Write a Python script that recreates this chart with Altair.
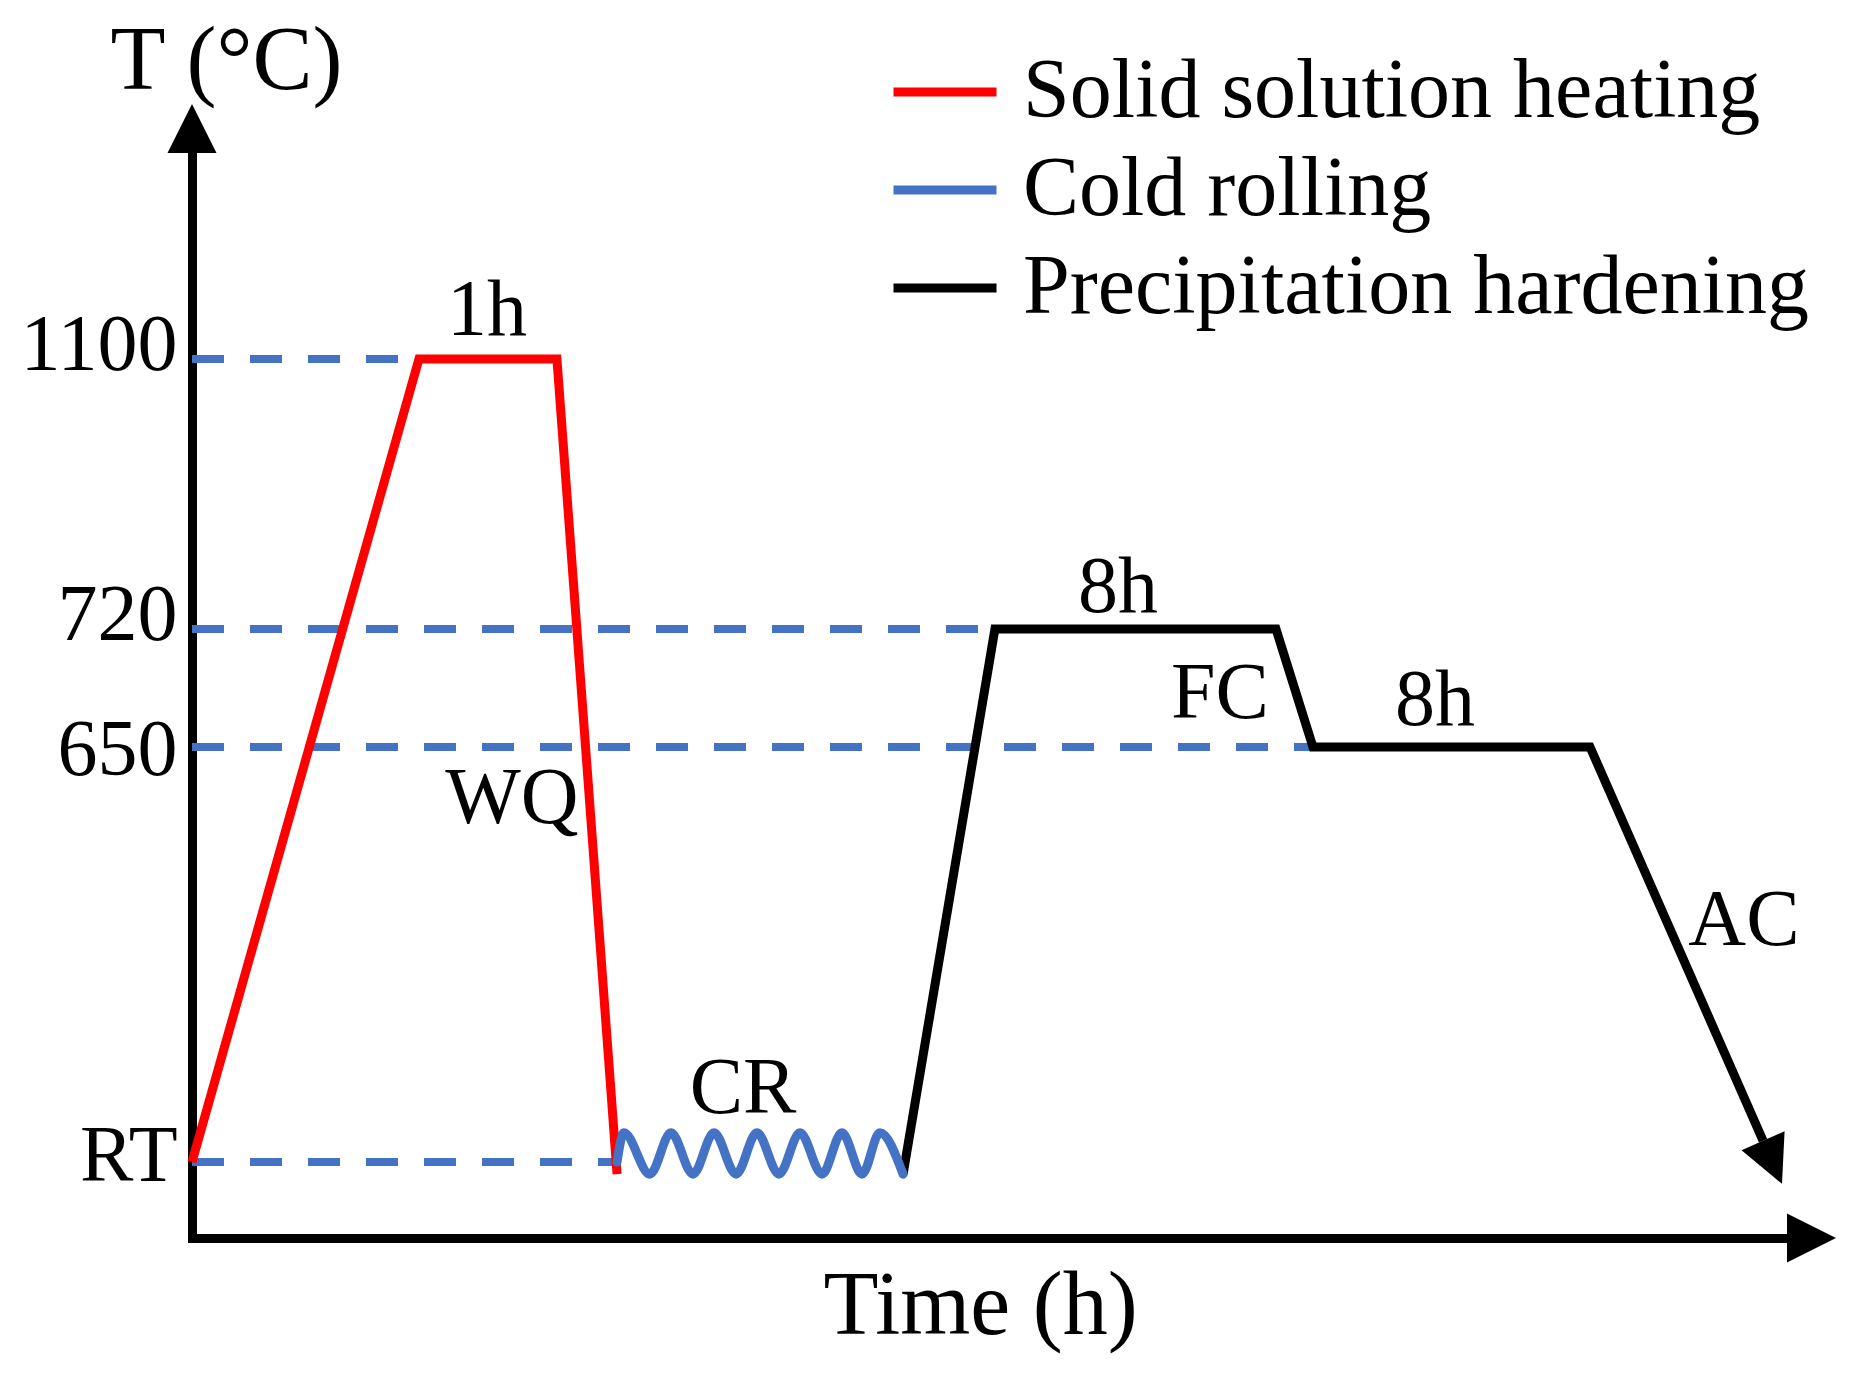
import math
import numpy as np
import pandas as pd
import altair as alt

FONT = "Liberation Serif"

# ---- schematic data (time in arbitrary schematic units, temperature in °C) ----
level_values = [25, 650, 720, 1100]
level_labels = ["RT", "650", "720", "1100"]
level_line_end = [26.65, 70.28, 50.34, 14.23]   # where each dashed guide meets the curve

series_names = ["Solid solution heating", "Cold rolling", "Precipitation hardening"]
series_colors = ["#FF0000", "#4472C4", "#000000"]

heat_t = [0, 14.23, 22.88, 26.65]
heat_T = [25, 1100, 1100, 21]

roll_t = [26.65, 27.08, 28.71, 30.03, 31.41, 32.73, 34.11, 35.42, 36.80,
          38.12, 39.50, 40.75, 42.01, 43.13, 44.58]
roll_T = [25, 69, 21, 69, 21, 69, 21, 69, 21, 69, 21, 69, 21, 69, 21]

age_t = [44.58, 50.34, 67.96, 70.28, 87.65, 98.50]
age_T = [21, 720, 720, 650, 650, 57]

note_text = ["1h", "WQ", "CR", "8h", "FC", "8h", "AC"]
note_t = [18.5, 20.06, 34.55, 58.06, 64.45, 77.93, 97.3]
note_T = [1135, 535, 99, 744, 667, 663, 352]

t_domain = [0, 100]
T_domain = [0, 25, 650, 720, 1100, 1400]

# ---- layout / styling ----
W, H = 1595, 1085
T_range = [1085, 1009, 594, 476, 206, 0]   # schematic (non-linear) temperature axis
LINE_W = 9

def px_t(v):
    return v / t_domain[1] * W

def px_T(v):
    return float(np.interp(v, T_domain, T_range))

dx = px_t(age_t[-1]) - px_t(age_t[-2])
dy = px_T(age_T[-1]) - px_T(age_T[-2])
ac_angle = (360 - math.degrees(math.atan2(dx, dy))) % 360

label_expr = " : ".join(
    [f"datum.value == {v} ? '{l}'" for v, l in zip(level_values, level_labels)] + ["''"]
)

x_axis = alt.Axis(
    title="Time (h)", labels=False, ticks=False, grid=False,
    domainColor="black", domainWidth=9, domainCap="square",
    titleFont=FONT, titleFontSize=90, titleFontWeight="normal", titleColor="black",
    titleX=788, titleY=95, titleAlign="center", titleBaseline="alphabetic",
)
y_axis = alt.Axis(
    title="T (°C)", values=level_values, labelExpr=label_expr,
    ticks=False, grid=False,
    domainColor="black", domainWidth=9, domainCap="square",
    labelFont=FONT, labelFontSize=80, labelColor="black", labelPadding=15,
    labelOffset={"condition": [{"test": "datum.value == 650", "value": 27},
                               {"test": "datum.value == 25", "value": 18}],
                 "value": 10},
    labelBaseline="alphabetic", labelOverlap=False, labelFlush=False,
    titleAngle=0, titleX=34, titleY=-65, titleAlign="center", titleBaseline="alphabetic",
    titleFont=FONT, titleFontSize=90, titleFontWeight="normal", titleColor="black",
)

X = alt.X("t:Q", scale=alt.Scale(domain=t_domain, nice=False, zero=False), axis=x_axis)
Y = alt.Y("T:Q", scale=alt.Scale(domain=T_domain, range=T_range, nice=False, zero=False),
          axis=y_axis)

legend = alt.Legend(
    orient="none", legendX=697, legendY=-117, title=None, direction="vertical",
    symbolType="stroke", symbolSize=10609, symbolStrokeWidth=9,
    labelFont=FONT, labelFontSize=84, labelColor="black", labelLimit=1500,
    labelOffset=22, rowPadding=0, padding=0,
)
C = alt.Color("process:N", scale=alt.Scale(domain=series_names, range=series_colors),
              legend=legend)

# ---- data frames ----
guides = pd.DataFrame({"t": [t_domain[0]] * len(level_values), "t_end": level_line_end,
                       "T": level_values})

lines = pd.concat([
    pd.DataFrame({"t": heat_t, "T": heat_T, "process": series_names[0],
                  "i": range(len(heat_t))}),
    pd.DataFrame({"t": age_t, "T": age_T, "process": series_names[2],
                  "i": range(len(age_t))}),
])
wave = pd.DataFrame({"t": roll_t, "T": roll_T, "process": series_names[1],
                     "i": range(len(roll_t))})

arrows = pd.DataFrame({
    "t": [t_domain[0], t_domain[1], age_t[-1]],
    "T": [T_domain[-1], T_domain[0], age_T[-1]],
    "shape": ["M -1 0 L 0 -2 L 1 0 Z", "M 0 -1 L 2 0 L 0 1 Z", "M -1 0 L 0 2 L 1 0 Z"],
    "size": [2401, 2401, 2209],
    "angle": [0, 0, ac_angle],
})

notes = pd.DataFrame({"t": note_t, "T": note_T, "label": note_text})

# ---- layers ----
guide_layer = alt.Chart(guides).mark_rule(
    color=series_colors[1], strokeWidth=8, strokeDash=[32, 26], strokeCap="butt"
).encode(x=X, x2=alt.X2("t_end"), y=Y)

line_layer = alt.Chart(lines).mark_line(
    strokeWidth=LINE_W, strokeJoin="miter", strokeCap="butt"
).encode(x=X, y=Y, color=C, order="i:Q")

wave_layer = alt.Chart(wave).mark_line(
    strokeWidth=LINE_W, interpolate="monotone", strokeJoin="round", strokeCap="round"
).encode(x=X, y=Y, color=C, order="i:Q")

arrow_layer = alt.Chart(arrows).mark_point(
    filled=True, opacity=1, color="black", strokeWidth=0
).encode(
    x=X, y=Y,
    shape=alt.Shape("shape:N", scale=None, legend=None),
    size=alt.Size("size:Q", scale=None, legend=None),
    angle=alt.Angle("angle:Q", scale=None),
)

note_layer = alt.Chart(notes).mark_text(
    font=FONT, fontSize=80, align="center", baseline="alphabetic", color="black"
).encode(x=X, y=Y, text="label:N")

chart = alt.layer(
    guide_layer, line_layer, wave_layer, arrow_layer, note_layer
).properties(
    width=W, height=H,
    padding={"left": 184, "top": 145, "right": 60, "bottom": 125},
    autosize=alt.AutoSizeParams(type="none"),
).configure(font=FONT, background="white").configure_view(strokeWidth=0, stroke="transparent")

chart.save("out.html", embed_options={"renderer": "svg", "actions": False})
